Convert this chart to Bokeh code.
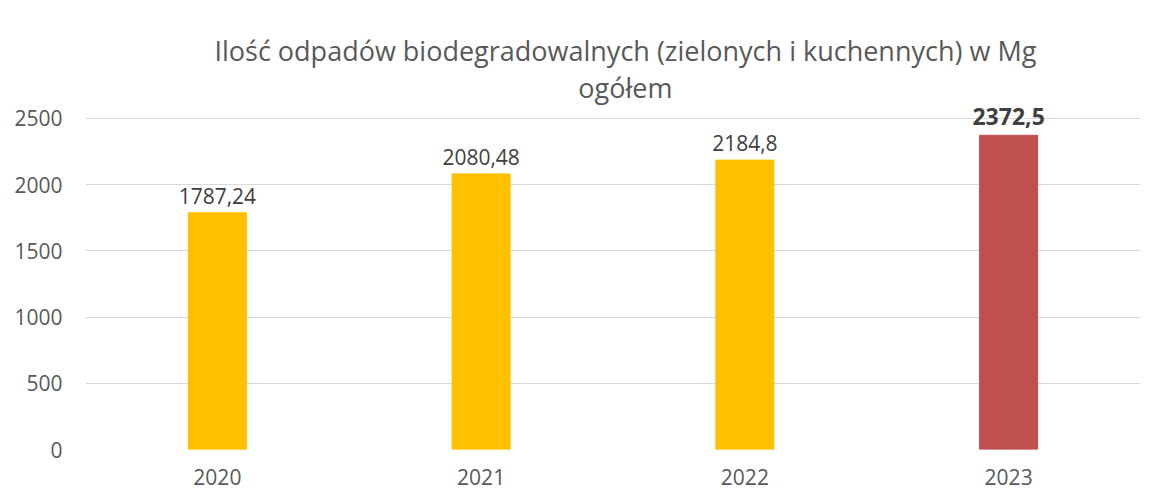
from bokeh.plotting import figure
from bokeh.models import Range1d, FixedTicker, ColumnDataSource, BoxAnnotation
from bokeh.core.properties import value
from bokeh.embed import file_html
from bokeh.resources import INLINE

years = ["2020", "2021", "2022", "2023"]
values = [1787.24, 2080.48, 2184.8, 2372.5]
labels = ["1787,24", "2080,48", "2184,8", "2372,5"]
colors = ["#FFC000", "#FFC000", "#FFC000", "#C0504D"]
y_ticks = [0, 500, 1000, 1500, 2000, 2500]
title_lines = ["Ilość odpadów biodegradowalnych (zielonych i kuchennych) w Mg", "ogółem"]

FONT = "Open Sans"
pos = [i + 0.5 for i in range(len(years))]

p = figure(width=1155, height=491, output_backend="svg", toolbar_location=None,
           x_range=Range1d(0, 4), y_range=Range1d(0, 3254),
           min_border_left=85, min_border_right=15, min_border_top=18, min_border_bottom=42)
p.outline_line_color = None
p.background_fill_color = "white"
p.border_fill_color = "white"

# chart-area border (top and left edges visible), placed just outside the frame
p.add_layout(BoxAnnotation(left=-0.288, right=10, top=3322, bottom=-2000,
                           fill_color=None, line_color="#d9d9d9", line_width=1.5,
                           level="underlay", editable=False))

src = ColumnDataSource(dict(x=pos, top=values, color=colors, label=labels))
p.vbar(x="x", top="top", width=0.22, color="color", source=src)

# regular labels
reg = ColumnDataSource(dict(x=pos[:3], y=values[:3], t=labels[:3]))
p.text(x="x", y="y", text="t", source=reg, text_align="center", text_baseline="alphabetic",
       y_offset=-17, text_font=value(FONT), text_font_size="21px", text_color="#404040")
bold = ColumnDataSource(dict(x=pos[3:], y=values[3:], t=labels[3:]))
p.text(x="x", y="y", text="t", source=bold, text_align="center", text_baseline="alphabetic",
       y_offset=-19, text_font=value(FONT), text_font_size="23px", text_font_style="bold",
       text_color="#404040")

# title
tsrc = ColumnDataSource(dict(x=[2.047, 2.047], y=[3013, 2733], t=title_lines))
p.text(x="x", y="y", text="t", source=tsrc, text_align="center", text_baseline="alphabetic",
       text_font=value(FONT), text_font_size="27px", text_color="#595959")

p.yaxis.ticker = FixedTicker(ticks=y_ticks)
p.xaxis.ticker = FixedTicker(ticks=pos)
p.xaxis.major_label_overrides = {pos[i]: years[i] for i in range(len(years))}
for ax in (p.xaxis, p.yaxis):
    ax.axis_line_color = None
    ax.major_tick_line_color = None
    ax.minor_tick_line_color = None
    ax.major_label_text_font = FONT
    ax.major_label_text_font_size = "21px"
    ax.major_label_text_color = "#595959"
p.yaxis.major_label_standoff = 17
p.xaxis.major_label_standoff = 13
p.xgrid.grid_line_color = None
p.ygrid.ticker = FixedTicker(ticks=y_ticks)
p.ygrid.grid_line_color = "#d9d9d9"
p.ygrid.grid_line_width = 1

open("out.html", "w").write(file_html(p, INLINE))
